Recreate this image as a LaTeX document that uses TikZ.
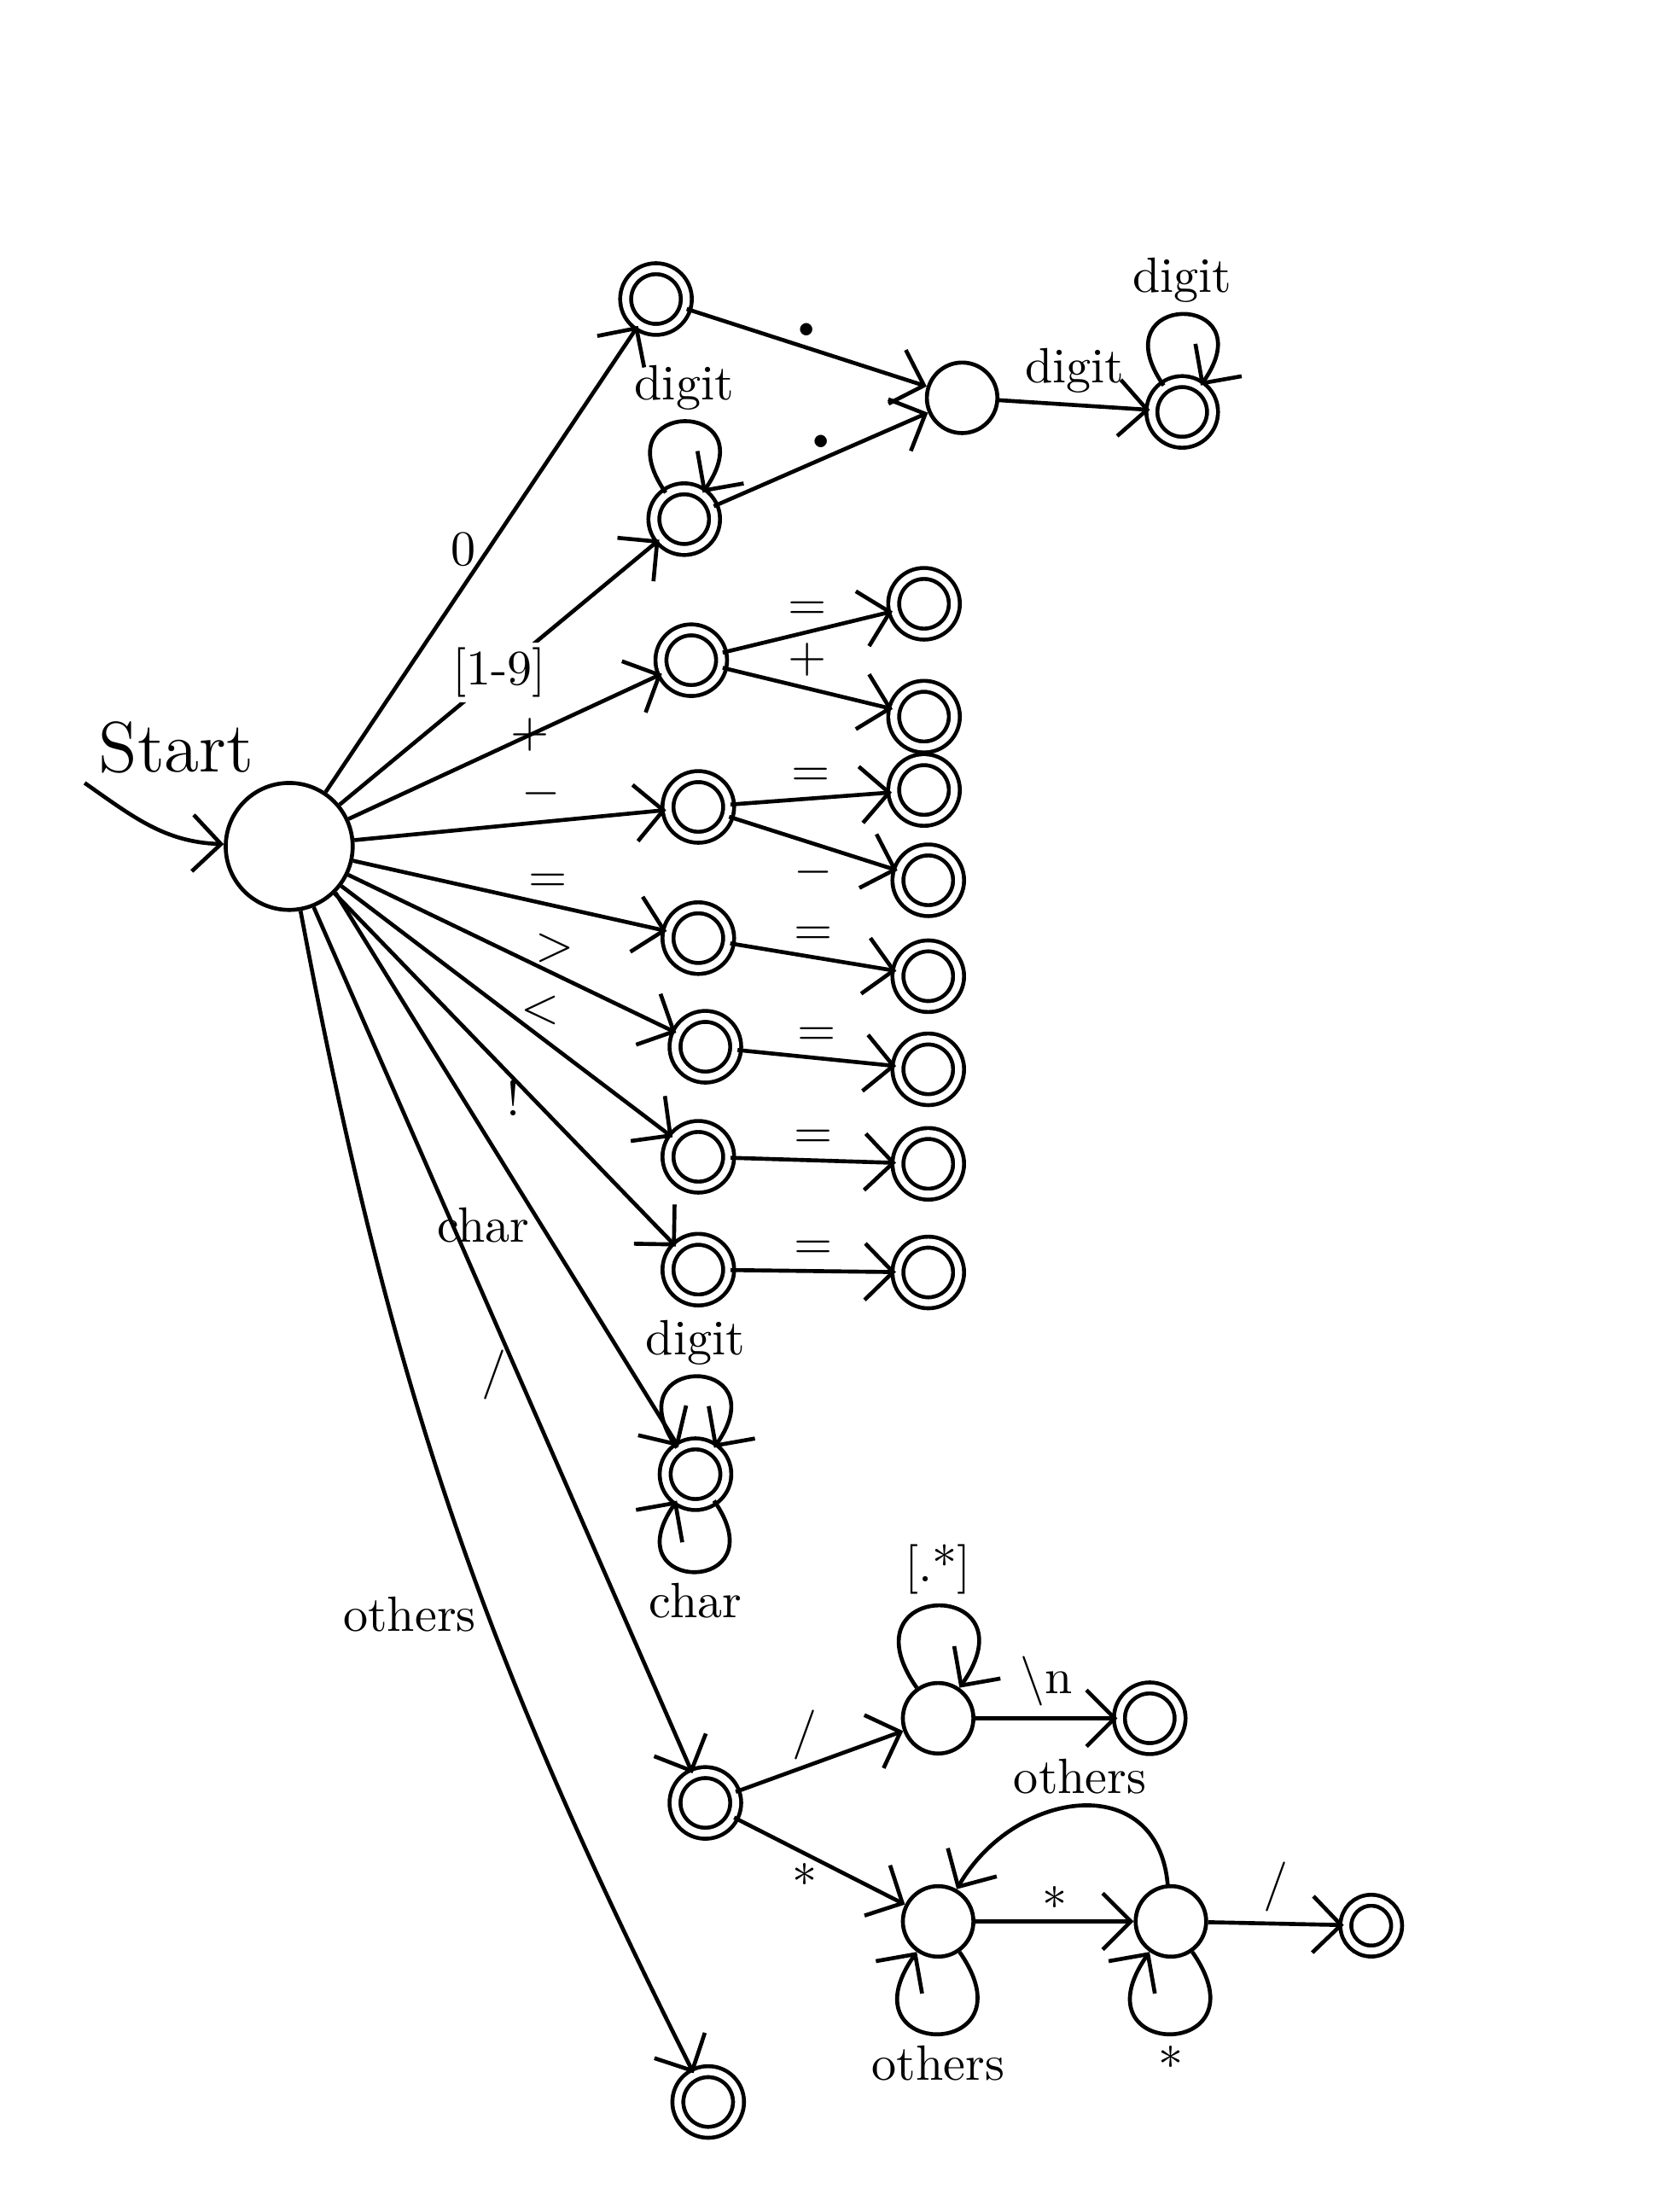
\documentclass[tikz,border=0pt]{standalone}
\usepackage{fontspec}
\usetikzlibrary{arrows.meta}
\begin{document}
\begin{tikzpicture}[
    st/.style={circle, draw, thick, minimum size=5mm, inner sep=0pt},
    acc/.style={st, double, double distance=1.4pt, minimum size=4.3mm},
    arrow/.style={-{Straight Barb[length=2mm, width=4mm]}, thick},
    lbl/.style={font=\normalsize, inner sep=2pt},
    loopup/.style={out=125, in=55, looseness=8, -{Straight Barb[length=1.6mm, width=3mm]}},
    loopdown/.style={out=-55, in=-125, looseness=8, -{Straight Barb[length=1.6mm, width=3mm]}}
]
    \useasboundingbox (0,0) rectangle (11.76,-15.68);

    % start
    \node[st, minimum size=9mm] (s) at (2.05,-6.00) {};
    \coordinate (init) at (0.60,-5.55);
    \node[lbl, font=\Large] (startlbl) at (1.25,-5.30) {Start};

    % numbers
    \node[acc] (zero) at (4.65,-2.12) {};
    \node[acc] (intg) at (4.85,-3.68) {};
    \node[st] (dot) at (6.82,-2.82) {};
    \node[acc] (frac) at (8.38,-2.92) {};

    % operators
    \node[acc] (plus) at (4.90,-4.68) {};
    \node[acc] (pluseq) at (6.55,-4.28) {};
    \node[acc] (pluspl) at (6.55,-5.08) {};
    \node[acc] (minus) at (4.95,-5.72) {};
    \node[acc] (minuseq) at (6.55,-5.60) {};
    \node[acc] (minusmi) at (6.58,-6.24) {};
    \node[acc] (assign) at (4.95,-6.65) {};
    \node[acc] (equal) at (6.58,-6.92) {};
    \node[acc] (gt) at (5.00,-7.42) {};
    \node[acc] (ge) at (6.58,-7.58) {};
    \node[acc] (lt) at (4.95,-8.20) {};
    \node[acc] (le) at (6.58,-8.25) {};
    \node[acc] (nt) at (4.95,-9.00) {};
    \node[acc] (ne) at (6.58,-9.02) {};

    % identifiers
    \node[acc] (ident) at (4.93,-10.45) {};

    % division and comments
    \node[acc] (div) at (5.00,-12.78) {};
    \node[st] (line) at (6.65,-12.18) {};
    \node[acc] (lineend) at (8.15,-12.18) {};
    \node[st] (block) at (6.65,-13.62) {};
    \node[st] (star) at (8.30,-13.62) {};
    \node[acc, minimum size=3.6mm] (blockend) at (9.72,-13.65) {};

    % others
    \node[acc] (other) at (5.02,-14.90) {};

    \draw[arrow] (init) to[out=-35, in=178] (s);

    \draw[arrow] (s) -- node[lbl, pos=0.52, left] {0} (zero);
    \draw[arrow] (s) -- node[lbl, pos=0.5, fill=white, inner sep=1pt] {[1-9]} (intg);
    \draw[arrow] (s) -- node[lbl, pos=0.58, inner sep=0pt] {$+$} (plus);
    \draw[arrow] (s) -- node[lbl, pos=0.6, above] {$-$} (minus);
    \draw[arrow] (s) -- node[lbl, pos=0.62, above] {$=$} (assign);
    \draw[arrow] (s) -- node[lbl, pos=0.63, above] {$>$} (gt);
    \draw[arrow] (s) -- node[lbl, pos=0.6, above] {$<$} (lt);
    \draw[arrow] (s) -- node[lbl, pos=0.58, left] {!} (nt);
    \draw[arrow] (s.-45) -- node[lbl, pos=0.6, left] {char} (ident);
    \draw[arrow] (s.-68) -- node[lbl, pos=0.54, left] {/} (div);
    \draw[arrow] (s.-80) to[bend right=8] node[lbl, pos=0.6, left] {others} (other);

    \draw[arrow] (zero) -- node[lbl, above, font=\LARGE\bfseries] {.} (dot);
    \draw[arrow] (intg) -- node[lbl, above, font=\LARGE\bfseries] {.} (dot);
    \draw[arrow] (dot) -- node[lbl, above] {digit} (frac);
    \draw[arrow] (intg.125) to[loopup] node[lbl, above] {digit} (intg.55);
    \draw[arrow] (frac.125) to[loopup] node[lbl, above] {digit} (frac.55);

    \draw[arrow] (plus) -- node[lbl, above] {$=$} (pluseq);
    \draw[arrow] (plus) -- node[lbl, above] {$+$} (pluspl);
    \draw[arrow] (minus) -- node[lbl, above] {$=$} (minuseq);
    \draw[arrow] (minus) -- node[lbl, below] {$-$} (minusmi);
    \draw[arrow] (assign) -- node[lbl, above] {$=$} (equal);
    \draw[arrow] (gt) -- node[lbl, above] {$=$} (ge);
    \draw[arrow] (lt) -- node[lbl, above] {$=$} (le);
    \draw[arrow] (nt) -- node[lbl, above] {$=$} (ne);

    \draw[arrow] (ident.125) to[loopup] node[lbl, above] {digit} (ident.55);
    \draw[arrow] (ident.-55) to[loopdown] node[lbl, below] {char} (ident.-125);

    \draw[arrow] (div) -- node[lbl, above left=-2pt] {/} (line);
    \draw[arrow] (div) -- node[lbl, below left=-2pt] {$*$} (block);
    \draw[arrow] (line.125) to[loopup] node[lbl, above] {[.*]} (line.55);
    \draw[arrow] (line) -- node[lbl, above] {\textbackslash n} (lineend);
    \draw[arrow] (block) -- node[lbl, above] {$*$} (star);
    \draw[arrow] (star) -- node[lbl, above] {/} (blockend);
    \draw[arrow] (block.-55) to[loopdown] node[lbl, below] {others} (block.-125);
    \draw[arrow] (star.-55) to[loopdown] node[lbl, below] {$*$} (star.-125);
    \draw[arrow] (star) to[out=95, in=60, looseness=1.4] node[lbl, above] {others} (block);
\end{tikzpicture}
\end{document}
